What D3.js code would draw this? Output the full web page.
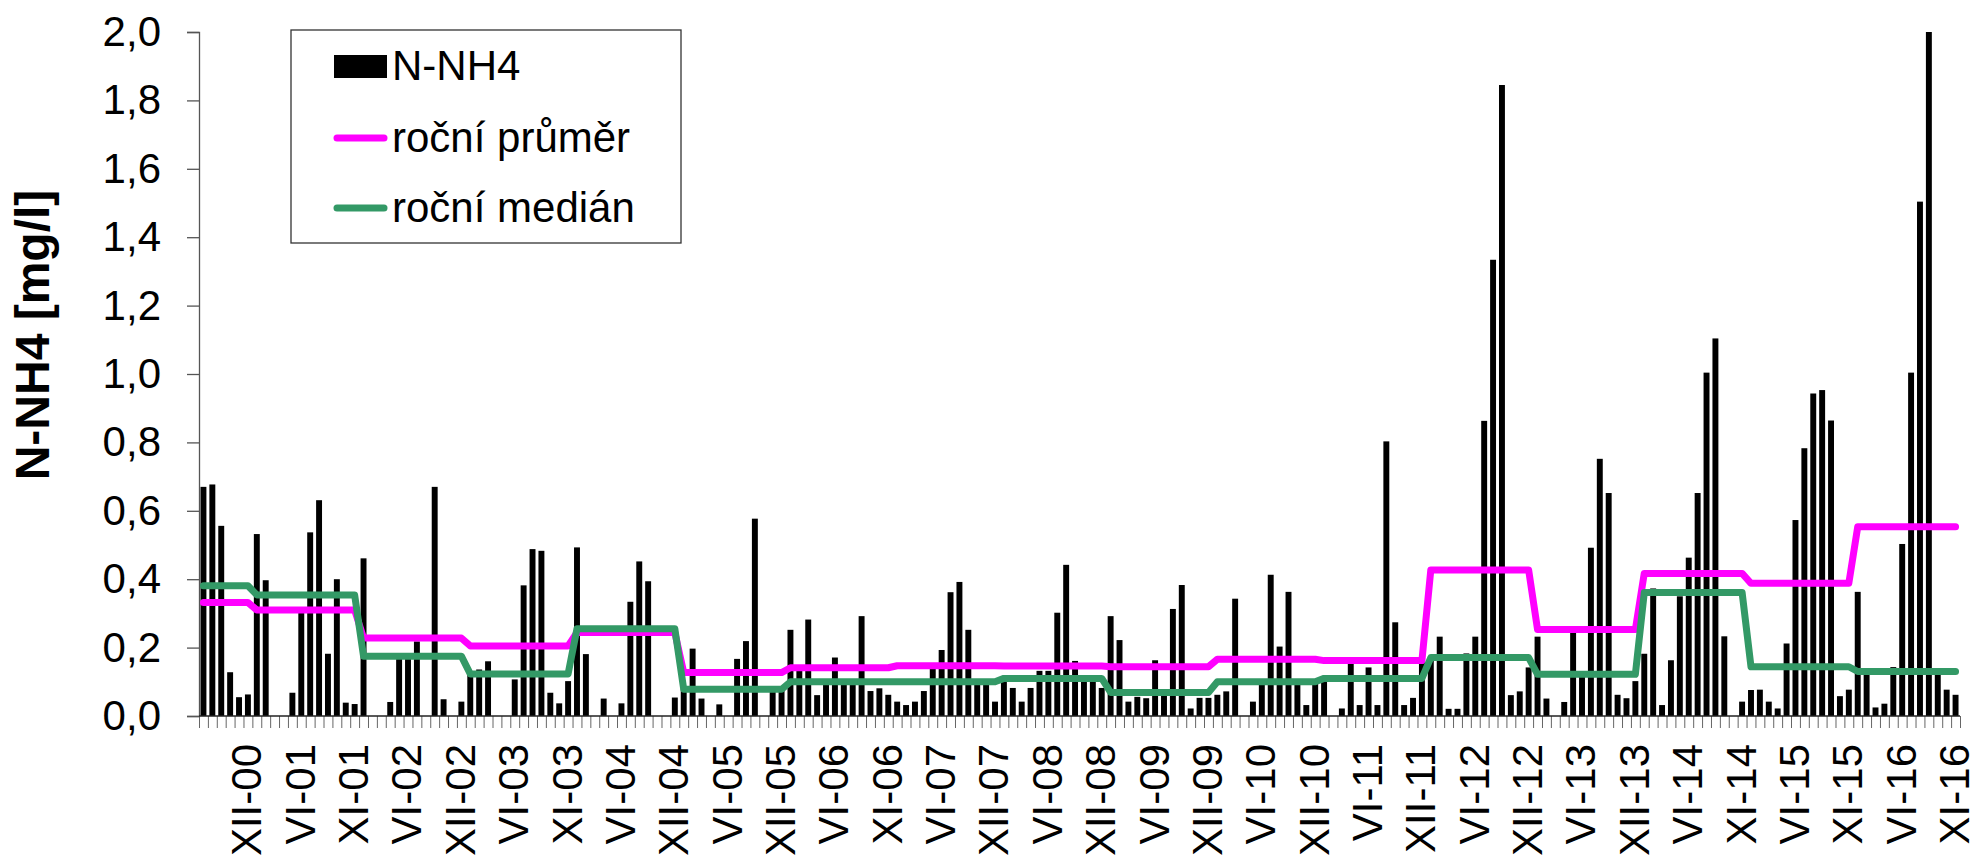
<!DOCTYPE html>
<html>
<head>
<meta charset="utf-8">
<script src="https://cdn.jsdelivr.net/npm/d3@7"></script>
<style>
  html, body { margin: 0; padding: 0; background: #fff; }
  svg { display: block; font-family: "Liberation Sans", Arial, sans-serif; }
</style>
</head>
<body>
<svg id="chart" width="1977" height="857"></svg>
<script>
// ---- DATA ----
// Sample values N-NH4 [mg/l], one per sample (null = no bar)
const values = [
  0.670, 0.677, 0.556, 0.128, 0.055, 0.063,
  0.532, 0.397, null, null, 0.068, 0.31, 0.537, 0.631, 0.182, 0.40, 0.039, 0.035,
  0.461, null, null, 0.041, 0.17, 0.17, 0.218, null, 0.670, 0.049, null, 0.042,
  0.125, 0.136, 0.160, null, null, 0.107, 0.382, 0.488, 0.483, 0.068, 0.037, 0.102,
  0.493, 0.181, null, 0.051, null, 0.037, 0.334, 0.452, 0.394, null, null, 0.054,
  0.08, 0.197, 0.051, null, 0.034, null, 0.167, 0.219, 0.577, null, 0.08, 0.08,
  0.252, 0.14, 0.282, 0.061, 0.10, 0.171, 0.10, 0.10, 0.292, 0.073, 0.081, 0.062,
  0.042, 0.032, 0.042, 0.073, 0.15, 0.193, 0.362, 0.392, 0.252, 0.10, 0.10, 0.042,
  0.10, 0.082, 0.042, 0.082, 0.132, 0.132, 0.302, 0.442, 0.161, 0.11, 0.11, 0.082,
  0.292, 0.222, 0.042, 0.056, 0.052, 0.163, 0.06, 0.313, 0.383, 0.022, 0.053, 0.053,
  0.062, 0.072, 0.343, null, 0.042, 0.10, 0.413, 0.203, 0.363, 0.10, 0.032, 0.10,
  0.11, null, 0.022, 0.16, 0.032, 0.142, 0.032, 0.803, 0.274, 0.032, 0.053, 0.165,
  0.17, 0.232, 0.021, 0.021, 0.183, 0.232, 0.863, 1.334, 1.845, 0.061, 0.072, 0.142,
  0.232, 0.051, null, 0.041, 0.25, 0.13, 0.492, 0.752, 0.652, 0.062, 0.052, 0.102,
  0.182, 0.373, 0.032, 0.163, 0.35, 0.463, 0.652, 1.004, 1.104, 0.233, null, 0.042,
  0.076, 0.077, 0.042, 0.022, 0.212, 0.573, 0.783, 0.943, 0.953, 0.864, 0.058, 0.077,
  0.363, 0.14, 0.025, 0.036, 0.143, 0.503, 1.004, 1.504, 2.0, 0.13, 0.077, 0.062
];

// Years, samples per year, annual mean and median
const years        = [2000, 2001, 2002, 2003, 2004, 2005, 2006, 2007, 2008, 2009, 2010, 2011, 2012, 2013, 2014, 2015, 2016];
const samplesPerYr = [6, 12, 12, 12, 12, 12, 12, 12, 12, 12, 12, 12, 12, 12, 12, 12, 12];
const annualMean   = [0.332, 0.310, 0.228, 0.205, 0.244, 0.127, 0.141, 0.147, 0.146, 0.144, 0.166, 0.162, 0.427, 0.253, 0.417, 0.388, 0.553];
const annualMedian = [0.381, 0.354, 0.175, 0.123, 0.255, 0.078, 0.100, 0.100, 0.110, 0.069, 0.100, 0.110, 0.171, 0.122, 0.361, 0.144, 0.130];

// Category tick labels (one every 6th sample)
const tickLabels = ["XII-00","VI-01","XI-01","VI-02","XII-02","VI-03","XI-03","VI-04","XII-04","VI-05",
  "XII-05","VI-06","XI-06","VI-07","XII-07","VI-08","XII-08","VI-09","XII-09","VI-10","XII-10",
  "VI-11","XII-11","VI-12","XII-12","VI-13","XII-13","VI-14","XI-14","VI-15","XI-15","VI-16","XI-16"];
const labelEvery = 6, labelOffset = 5;

const yTicks = [0, 0.2, 0.4, 0.6, 0.8, 1.0, 1.2, 1.4, 1.6, 1.8, 2.0];

const legendItems = [
  { name: "N-NH4", type: "bar", color: "#000000" },
  { name: "roční průměr", type: "line", color: "#ff00ff" },
  { name: "roční medián", type: "line", color: "#339966" }
];

// ---- BUILD ----
const N = values.length;
const meanSeries = [], medianSeries = [];
years.forEach((yr, k) => {
  for (let j = 0; j < samplesPerYr[k]; j++) {
    meanSeries.push(annualMean[k]);
    medianSeries.push(annualMedian[k]);
  }
});

const svg = d3.select("#chart");
const L = 199, R = 1960, T = 32, B = 716;
const FONT = 42;

const pad = 1 / 3;
const x = d3.scaleBand().domain(d3.range(N)).range([L, R]).paddingInner(pad).paddingOuter(pad / 2);
const xLin = d3.scaleLinear().domain([0, N]).range([L, R]);
const y = d3.scaleLinear().domain([0, 2.0]).range([B, T]);
const cx = i => x(i) + x.bandwidth() / 2;

// Bars
svg.append("g").selectAll("rect")
  .data(values.map((v, i) => ({ v, i })).filter(d => d.v !== null))
  .join("rect")
  .attr("x", d => x(d.i))
  .attr("width", x.bandwidth())
  .attr("y", d => y(d.v))
  .attr("height", d => y(0) - y(d.v))
  .attr("fill", "#000");

// Y axis
const yAxis = svg.append("g").attr("transform", `translate(${L},0)`)
  .call(d3.axisLeft(y).tickValues(yTicks).tickSize(12).tickPadding(26)
    .tickFormat(d => d.toFixed(1).replace(".", ",")));
yAxis.select(".domain").attr("stroke", "#555").attr("stroke-width", 1.3);
yAxis.selectAll(".tick line").attr("stroke", "#555").attr("stroke-width", 1.3);
yAxis.selectAll(".tick text").attr("font-size", FONT).attr("fill", "#000")
  .attr("font-family", "Liberation Sans, Arial, sans-serif");

// X axis ticks at category boundaries
const xTickAxis = svg.append("g").attr("transform", `translate(0,${B})`)
  .call(d3.axisBottom(xLin).tickValues(d3.range(N + 1)).tickSize(12).tickFormat(""));
xTickAxis.select(".domain").remove();
xTickAxis.selectAll(".tick line").attr("stroke", "#666").attr("stroke-width", 1);

// X axis labels
const labelIdx = tickLabels.map((_, k) => labelOffset + k * labelEvery);
const xLabAxis = svg.append("g").attr("transform", `translate(0,${B})`)
  .call(d3.axisBottom(x).tickValues(labelIdx).tickSize(0)
    .tickFormat(i => tickLabels[(i - labelOffset) / labelEvery]));
xLabAxis.select(".domain").remove();
xLabAxis.selectAll(".tick text")
  .attr("font-size", FONT).attr("fill", "#000")
  .attr("font-family", "Liberation Sans, Arial, sans-serif")
  .attr("transform", "rotate(-90)")
  .attr("text-anchor", "end")
  .attr("x", -28).attr("y", 0).attr("dy", "0.32em");

// Baseline
svg.append("line").attr("x1", L).attr("x2", R).attr("y1", B).attr("y2", B)
  .attr("stroke", "#222").attr("stroke-width", 1.3);

// Lines
const line = d3.line().x((d, i) => cx(i)).y(d => y(d));
svg.append("path").datum(meanSeries).attr("d", line)
  .attr("fill", "none").attr("stroke", "#ff00ff").attr("stroke-width", 7)
  .attr("stroke-linejoin", "round").attr("stroke-linecap", "round");
svg.append("path").datum(medianSeries).attr("d", line)
  .attr("fill", "none").attr("stroke", "#339966").attr("stroke-width", 7)
  .attr("stroke-linejoin", "round").attr("stroke-linecap", "round");

// Y title
svg.append("text")
  .attr("transform", "translate(32,335) rotate(-90)")
  .attr("text-anchor", "middle").attr("dominant-baseline", "central")
  .attr("font-size", 48).attr("font-weight", "bold").attr("fill", "#000")
  .text("N-NH4 [mg/l]");

// Legend
const lg = svg.append("g");
lg.append("rect").attr("x", 291).attr("y", 30).attr("width", 390).attr("height", 213)
  .attr("fill", "#fff").attr("stroke", "#333").attr("stroke-width", 1.3);
const baselines = [80, 152, 222];
legendItems.forEach((it, k) => {
  const by = baselines[k];
  if (it.type === "bar") {
    lg.append("rect").attr("x", 334).attr("y", by - 25).attr("width", 53).attr("height", 23).attr("fill", it.color);
  } else {
    lg.append("line").attr("x1", 337).attr("x2", 384).attr("y1", by - 14).attr("y2", by - 14)
      .attr("stroke", it.color).attr("stroke-width", 7).attr("stroke-linecap", "round");
  }
  lg.append("text").attr("x", 392).attr("y", by).attr("font-size", FONT).attr("fill", "#000").text(it.name);
});
</script>
</body>
</html>
